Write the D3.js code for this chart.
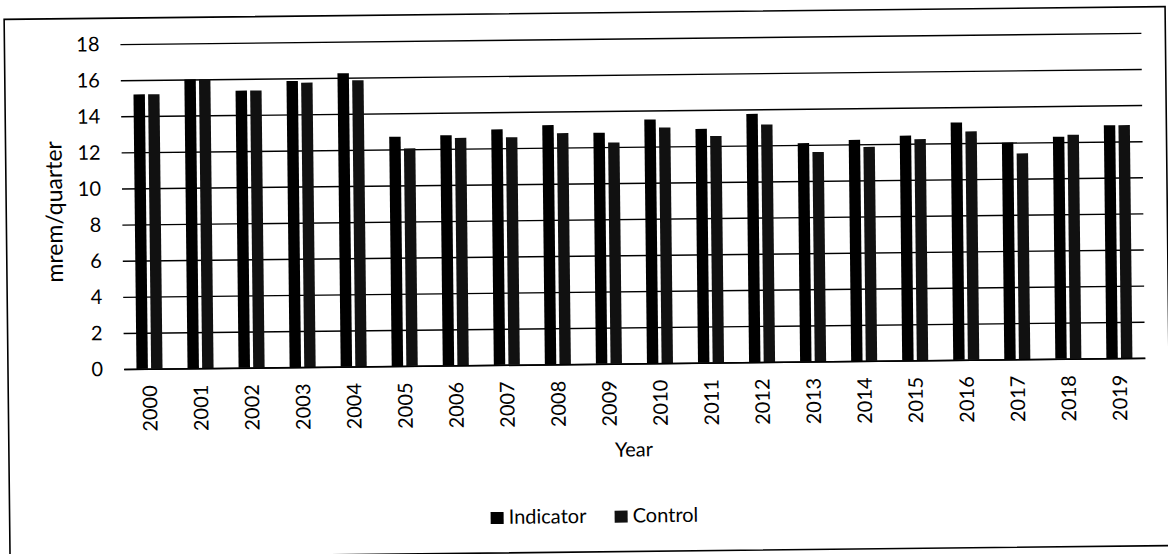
<!DOCTYPE html>
<html>
<head>
<meta charset="utf-8">
<script src="https://cdn.jsdelivr.net/npm/d3@7"></script>
<style>
  body { margin: 0; background: #fff; }
  svg text { font-family: Lato, 'Open Sans', sans-serif; fill: #000; }
</style>
</head>
<body>
<div id="chart"></div>
<script>
const years = ['2000','2001','2002','2003','2004','2005','2006','2007','2008','2009',
               '2010','2011','2012','2013','2014','2015','2016','2017','2018','2019'];
const seriesNames = ['Indicator', 'Control'];
const indicator = [15.2, 16.0, 15.35, 15.85, 16.25, 12.7, 12.75, 13.05, 13.25, 12.8,
                   13.5, 12.95, 13.75, 12.1, 12.25, 12.45, 13.15, 12.0, 12.3, 12.9];
const control   = [15.2, 16.0, 15.35, 15.75, 15.85, 12.05, 12.6, 12.6, 12.8, 12.25,
                   13.05, 12.55, 13.15, 11.6, 11.85, 12.25, 12.65, 11.4, 12.4, 12.9];
const yTicks = [0, 2, 4, 6, 8, 10, 12, 14, 16, 18];

const W = 1168, H = 554;
const plot = { left: 123, right: 1144, top: 39, bottom: 364 };
const colors = { Indicator: '#000', Control: '#111' };

const rows = years.map((y, i) => ({ year: y, Indicator: indicator[i], Control: control[i] }));

const svg = d3.select('#chart').append('svg')
  .attr('width', W)
  .attr('height', H);

// the scanned original sits slightly tilted
const root = svg.append('g').attr('transform', 'rotate(-0.63 584 277)');

// outer frame
root.append('rect')
  .attr('x', 7).attr('y', 13)
  .attr('width', 1161).attr('height', 539)
  .attr('fill', 'none')
  .attr('stroke', '#000')
  .attr('stroke-width', 1.6);

//---------------- scales ----------------
const x0 = d3.scaleBand().domain(years)
  .range([plot.left, plot.right])
  .paddingInner(0.49).paddingOuter(0.245);
const x1 = d3.scaleBand().domain(seriesNames)
  .range([0, x0.bandwidth()])
  .paddingInner(0.22);
const y = d3.scaleLinear().domain([0, 18]).range([plot.bottom, plot.top]);

//---------------- grid + y axis ----------------
const grid = root.append('g')
  .attr('transform', 'translate(' + plot.left + ',0)')
  .call(d3.axisLeft(y).tickValues(yTicks).tickSize(-(plot.right - plot.left)).tickFormat(''));
grid.select('.domain').remove();
grid.selectAll('line').attr('stroke', '#000').attr('stroke-width', 1.4);

const yAxis = root.append('g')
  .attr('transform', 'translate(' + plot.left + ',0)')
  .call(d3.axisLeft(y).tickValues(yTicks).tickSize(0).tickPadding(21));
yAxis.select('.domain').remove();
yAxis.selectAll('text')
  .style('font-size', '20px')
  .attr('fill', '#000');

//---------------- bars ----------------
root.append('g')
  .selectAll('g')
  .data(rows)
  .join('g')
  .attr('transform', d => 'translate(' + x0(d.year) + ',0)')
  .selectAll('rect')
  .data(d => seriesNames.map(k => ({ key: k, value: d[k] })))
  .join('rect')
  .attr('x', d => x1(d.key))
  .attr('width', x1.bandwidth())
  .attr('y', d => y(d.value))
  .attr('height', d => y(0) - y(d.value))
  .attr('fill', d => colors[d.key]);

//---------------- x axis ----------------
const xAxis = root.append('g')
  .attr('transform', 'translate(0,' + plot.bottom + ')')
  .call(d3.axisBottom(x0).tickSize(0).tickSizeOuter(0));
xAxis.select('.domain').attr('stroke', '#000').attr('stroke-width', 1.6);
xAxis.selectAll('text')
  .style('font-size', '20px')
  .attr('fill', '#000')
  .attr('text-anchor', 'end')
  .attr('transform', 'rotate(-90)')
  .attr('x', -16.5)
  .attr('y', 0)
  .attr('dy', '0.36em');

//---------------- titles ----------------
root.append('text')
  .attr('transform', 'translate(63,206) rotate(-90)')
  .attr('text-anchor', 'middle')
  .style('font-size', '23px')
  .text('mrem/quarter');

root.append('text')
  .attr('x', 632).attr('y', 457)
  .attr('text-anchor', 'middle')
  .style('font-size', '20px')
  .text('Year');

//---------------- legend ----------------
const legendItems = [
  { key: 'Indicator', x: 488 },
  { key: 'Control', x: 612 }
];
const legend = root.append('g').selectAll('g')
  .data(legendItems)
  .join('g')
  .attr('transform', d => 'translate(' + d.x + ',511)');
legend.append('rect')
  .attr('width', 13).attr('height', 12)
  .attr('fill', d => colors[d.key]);
legend.append('text')
  .attr('x', 18).attr('y', 12)
  .style('font-size', '20px')
  .text(d => d.key);
</script>
</body>
</html>
